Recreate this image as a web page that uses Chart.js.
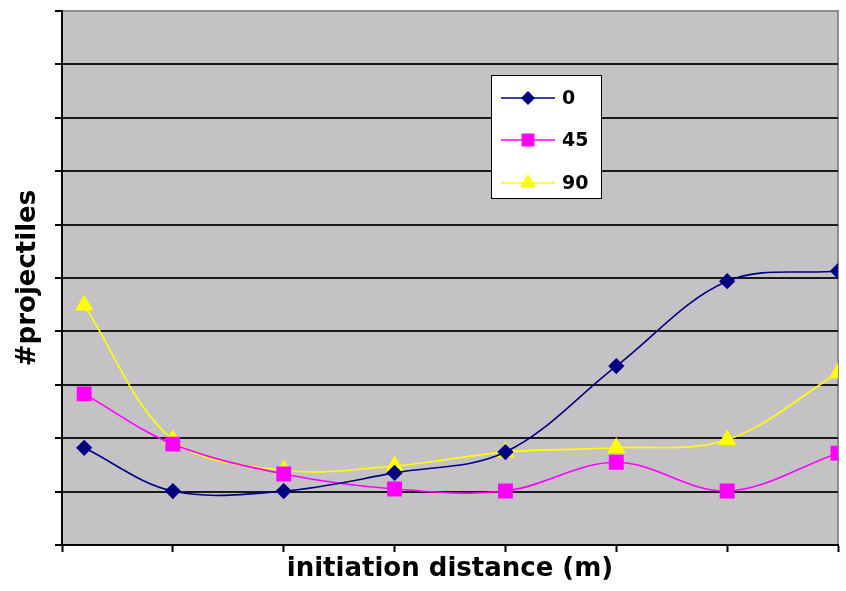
<!DOCTYPE html>
<html>
<head>
<meta charset="utf-8">
<script src="https://cdn.jsdelivr.net/npm/chart.js@4/dist/chart.umd.min.js"></script>
<style>
    html, body { margin: 0; padding: 0; background: #fff; }
    #wrap { width: 846px; height: 591px; position: relative; }
</style>
</head>
<body>
<div id="wrap"><canvas id="chart"></canvas></div>
<script>
// initiation distance (m)
const distances = [1, 5, 10, 15, 20, 25, 30, 35];

// #projectiles par angle
const serie0 = [1.82, 1.01, 1.01, 1.35, 1.74, 3.35, 4.94, 5.13];
const serie45 = [2.83, 1.89, 1.33, 1.05, 1.01, 1.55, 1.01, 1.72];
const serie90 = [4.49, 1.97, 1.40, 1.48, 1.74, 1.82, 1.97, 3.22];

const seriesLabels = ['0', '45', '90'];

const toPoints = (values) => values.map((v, i) => ({ x: distances[i], y: v }));

// fond gris de la zone de tracé
const plotBackground = {
    id: 'plotBackground',
    beforeDraw(chart) {
        const { ctx, chartArea: a } = chart;
        ctx.save();
        ctx.fillStyle = '#c4c2c5';
        ctx.fillRect(a.left, a.top, a.right - a.left, a.bottom - a.top);
        ctx.strokeStyle = '#8c8c8c';
        ctx.lineWidth = 2;
        ctx.strokeRect(a.left, a.top, a.right - a.left, a.bottom - a.top);
        ctx.restore();
    }
};

// légende encadrée dans la zone de tracé
const boxLegend = {
    id: 'boxLegend',
    afterDraw(chart) {
        const ctx = chart.ctx;
        const rows = [98, 140, 183];
        ctx.save();
        ctx.fillStyle = '#fff';
        ctx.fillRect(491.5, 75.5, 110, 123);
        ctx.strokeStyle = '#000';
        ctx.lineWidth = 1;
        ctx.strokeRect(491.5, 75.5, 110, 123);
        chart.data.datasets.forEach((ds, i) => {
            const y = rows[i];
            ctx.strokeStyle = ds.borderColor;
            ctx.lineWidth = 1.5;
            ctx.beginPath();
            ctx.moveTo(501, y);
            ctx.lineTo(555, y);
            ctx.stroke();
            ctx.fillStyle = ds.pointBackgroundColor;
            ctx.strokeStyle = ds.pointBorderColor;
            Chart.helpers.drawPoint(ctx, {
                pointStyle: ds.pointStyle,
                radius: ds.pointRadius * 0.85,
                rotation: 0,
                borderWidth: 1
            }, 528, y);
            ctx.fillStyle = '#000';
            ctx.font = 'bold 19px "DejaVu Sans"';
            ctx.textBaseline = 'middle';
            ctx.fillText(ds.label, 562, y + 1);
        });
        ctx.restore();
    }
};

const ctx = document.getElementById('chart').getContext('2d');
new Chart(ctx, {
    type: 'line',
    data: {
        datasets: [{
            label: seriesLabels[0],
            data: toPoints(serie0),
            borderColor: '#000080',
            pointBackgroundColor: '#000080',
            pointBorderColor: '#000080',
            pointStyle: 'rectRot',
            pointRadius: 7,
            borderWidth: 1.6
        }, {
            label: seriesLabels[1],
            data: toPoints(serie45),
            borderColor: '#ff00ff',
            pointBackgroundColor: '#ff00ff',
            pointBorderColor: '#ff00ff',
            pointStyle: 'rect',
            pointRadius: 9.4,
            borderWidth: 1.6
        }, {
            label: seriesLabels[2],
            data: toPoints(serie90),
            borderColor: '#ffff00',
            pointBackgroundColor: '#ffff00',
            pointBorderColor: '#ffff00',
            pointStyle: 'triangle',
            pointRadius: 9,
            borderWidth: 1.6
        }]
    },
    options: {
        responsive: true,
        maintainAspectRatio: false,
        animation: false,
        layout: { autoPadding: false, padding: { left: 0, top: 11, right: 8, bottom: 0 } },
        elements: {
            line: { tension: 0.35, fill: false },
            point: { borderWidth: 1 }
        },
        plugins: {
            legend: { display: false },
            tooltip: { enabled: false }
        },
        scales: {
            x: {
                type: 'linear',
                min: 0,
                max: 35,
                ticks: { display: false, stepSize: 5 },
                grid: { drawOnChartArea: false, drawTicks: true, tickLength: 7, color: '#000', tickWidth: 2 },
                border: { display: true, color: '#000', width: 2 },
                title: {
                    display: true,
                    text: 'initiation distance (m)',
                    color: '#000',
                    font: { family: '"DejaVu Sans"', size: 26, weight: 'bold' },
                    padding: { top: 0, bottom: 6 }
                },
                afterFit: (scale) => { scale.height = 46; }
            },
            y: {
                min: 0,
                max: 10,
                ticks: { display: false, stepSize: 1 },
                grid: {
                    drawTicks: true,
                    tickLength: 7,
                    lineWidth: 2,
                    tickWidth: 2,
                    tickColor: '#000',
                    color: (c) => (c.tick && c.tick.value === 10 ? '#8c8c8c' : '#1a1a1a')
                },
                border: { display: true, color: '#000', width: 2 },
                title: {
                    display: true,
                    text: '#projectiles',
                    color: '#000',
                    font: { family: '"DejaVu Sans"', size: 26, weight: 'bold' },
                    padding: { top: 13, bottom: 0 }
                },
                afterFit: (scale) => { scale.width = 62; }
            }
        }
    },
    plugins: [plotBackground, boxLegend]
});
</script>
</body>
</html>
